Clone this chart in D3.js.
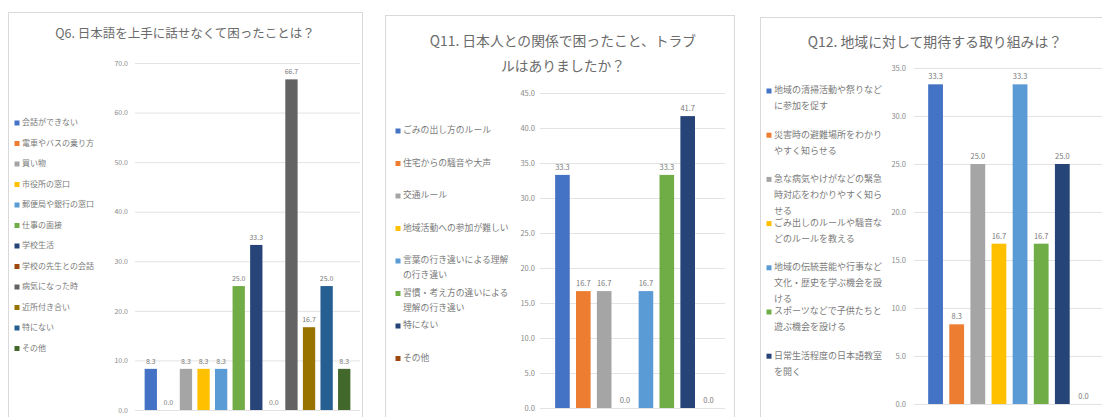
<!DOCTYPE html>
<html><head><meta charset="utf-8">
<script src="https://cdn.jsdelivr.net/npm/d3@7/dist/d3.min.js"></script>
<style>
body{margin:0;background:#fff;}
svg{display:block;font-family:"Noto Sans CJK JP","Noto Sans",sans-serif;}
</style>
</head><body>
<svg id="chart" width="1102" height="417"></svg>
<script>
// ---- data ----
const q6Title = ["Q6. 日本語を上手に話せなくて困ったことは？"];
const q6Categories = ["会話ができない","電車やバスの乗り方","買い物","市役所の窓口","郵便局や銀行の窓口","仕事の面接","学校生活","学校の先生との会話","病気になった時","近所付き合い","特にない","その他"];
const q6Values = [8.3, 0.0, 8.3, 8.3, 8.3, 25.0, 33.3, 0.0, 66.7, 16.7, 25.0, 8.3];
const q6Ticks = [0, 10, 20, 30, 40, 50, 60, 70];

const q11Title = ["Q11. 日本人との関係で困ったこと、トラブ", "ルはありましたか？"];
const q11Categories = ["ごみの出し方のルール","住宅からの騒音や大声","交通ルール","地域活動への参加が難しい","言葉の行き違いによる理解の行き違い","習慣・考え方の違いによる理解の行き違い","特にない","その他"];
const q11Values = [33.3, 16.7, 16.7, 0.0, 16.7, 33.3, 41.7, 0.0];
const q11Ticks = [0, 5, 10, 15, 20, 25, 30, 35, 40, 45];

const q12Title = ["Q12. 地域に対して期待する取り組みは？"];
const q12Categories = ["地域の清掃活動や祭りなどに参加を促す","災害時の避難場所をわかりやすく知らせる","急な病気やけがなどの緊急時対応をわかりやすく知らせる","ごみ出しのルールや騒音などのルールを教える","地域の伝統芸能や行事など文化・歴史を学ぶ機会を設ける","スポーツなどで子供たちと遊ぶ機会を設ける","日常生活程度の日本語教室を開く","その他"];
const q12Values = [33.3, 8.3, 25.0, 16.7, 33.3, 16.7, 25.0, 0.0];
const q12Ticks = [0, 5, 10, 15, 20, 25, 30, 35];

const palette = ["#4472C4","#ED7D31","#A5A5A5","#FFC000","#5B9BD5","#70AD47","#264478","#9E480E","#636363","#997300","#255E91","#43682B"];

// ---- layout ----
const panels = [
  {title:q6Title, cats:q6Categories, vals:q6Values, ticks:q6Ticks,
   box:[8,12,354,430], titleY:[35], titleX:185, titleSize:12.5, tickSize:7,
   yRange:[410,63], xRange:[142,353], tickX:128, gridX:[135,360],
   legX:17, legY:123, legStep:20.5, legLine:15, legSize:8, wrap:99, legCount:12},
  {title:q11Title, cats:q11Categories, vals:q11Values, ticks:q11Ticks,
   box:[385,15,349,430], titleY:[42,67], titleX:563, titleSize:13.8, tickSize:7.5,
   yRange:[408,93], xRange:[552,719], tickX:535, gridX:[540,725],
   legX:398, legY:131, legStep:32.5, legLine:15, legSize:8.8, wrap:12, legCount:8},
  {title:q12Title, cats:q12Categories, vals:q12Values, ticks:q12Ticks,
   box:[760,17,360,430], titleY:[43], titleX:935, titleSize:13.9, tickSize:7.5,
   yRange:[404,68], xRange:[925,1094], tickX:906, gridX:[914,1102],
   legX:769, legY:91, legStep:44.2, legLine:16, legSize:9, wrap:12, legCount:7}
];

const svg = d3.select("#chart");
const fmt = d3.format(".1f");

function wrapText(s, n){
  const out = [];
  for(let i=0;i<s.length;i+=n) out.push(s.slice(i,i+n));
  return out;
}

panels.forEach(p => {
  const g = svg.append("g");
  g.append("rect").attr("x",p.box[0]+0.5).attr("y",p.box[1]+0.5)
    .attr("width",p.box[2]).attr("height",p.box[3])
    .attr("fill","#fff").attr("stroke","#d9d9d9").attr("stroke-width",1);

  p.title.forEach((t,i)=>{
    g.append("text").attr("x",p.titleX).attr("y",p.titleY[i])
      .attr("text-anchor","middle").attr("dominant-baseline","middle")
      .attr("font-size",p.titleSize).attr("fill","#6b6b6b").text(t);
  });

  const y = d3.scaleLinear().domain([0, d3.max(p.ticks)]).range(p.yRange);
  const x = d3.scaleBand().domain(p.cats).range(p.xRange).paddingInner(0.3).paddingOuter(0.15);

  // gridlines + tick labels via axis
  const axis = d3.axisLeft(y).tickValues(p.ticks).tickFormat(fmt)
    .tickSize(-(p.gridX[1]-p.gridX[0])).tickPadding(p.gridX[0]-p.tickX);
  const ag = g.append("g").attr("transform",`translate(${p.gridX[0]},0)`).call(axis);
  ag.select(".domain").remove();
  ag.selectAll(".tick line").attr("stroke","#e3e3e3");
  ag.selectAll(".tick text").attr("fill","#8a8a8a").attr("font-size",p.tickSize)
    .attr("font-family","'Noto Sans CJK JP','Noto Sans',sans-serif");

  // bars
  g.selectAll("rect.bar").data(p.cats).enter().append("rect").attr("class","bar")
    .attr("x",d=>x(d)).attr("width",x.bandwidth())
    .attr("y",(d,i)=>y(p.vals[i])).attr("height",(d,i)=>y(0)-y(p.vals[i]))
    .attr("fill",(d,i)=>palette[i]);

  // data labels
  g.selectAll("text.lbl").data(p.cats).enter().append("text").attr("class","lbl")
    .attr("x",d=>x(d)+x.bandwidth()/2).attr("y",(d,i)=>y(p.vals[i])-5)
    .attr("text-anchor","middle").attr("font-size",p.tickSize).attr("fill","#7a7a7a")
    .text((d,i)=>fmt(p.vals[i]));

  // legend
  p.cats.slice(0,p.legCount).forEach((c,i)=>{
    const ly = p.legY + i*p.legStep;
    g.append("rect").attr("x",p.legX-2.5).attr("y",ly-2.5).attr("width",5).attr("height",5)
      .attr("fill",palette[i]);
    wrapText(c,p.wrap).forEach((line,j)=>{
      g.append("text").attr("x",p.legX+5).attr("y",ly+j*p.legLine)
        .attr("dominant-baseline","middle").attr("font-size",p.legSize)
        .attr("fill","#7a7a7a").text(line);
    });
  });
});
</script>
</body></html>
